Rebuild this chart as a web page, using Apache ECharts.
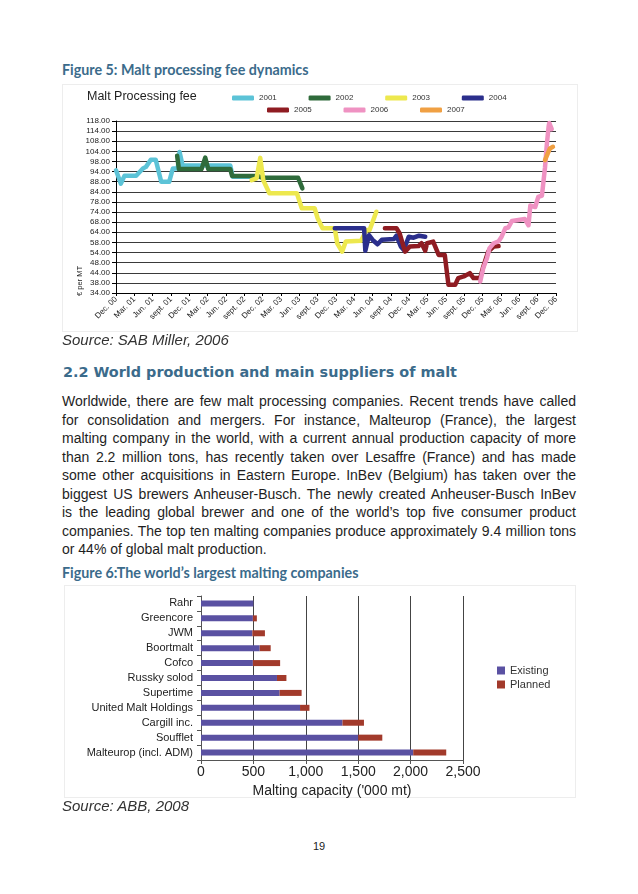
<!DOCTYPE html>
<html><head><meta charset="utf-8">
<script src="https://cdn.jsdelivr.net/npm/echarts@6/dist/echarts.min.js"></script>
<style>
body{margin:0;background:#fff;}
#page{position:relative;width:638px;height:894px;overflow:hidden;font-family:"Liberation Sans",Arial,sans-serif;color:#1e1e1e;}
.fig{position:absolute;left:62px;font-family:Lato,"Open Sans",sans-serif;font-weight:700;font-size:14.3px;color:#3b6b8b;line-height:16px;white-space:nowrap;}
.src{position:absolute;left:62px;font-style:italic;font-size:15px;color:#333;line-height:18px;white-space:nowrap;}
.h2{position:absolute;left:63px;top:362px;font-family:"DejaVu Sans",sans-serif;font-weight:700;font-size:14.4px;color:#3b6b8b;line-height:20px;white-space:nowrap;}
#body{position:absolute;left:62px;top:392px;width:514px;font-size:14px;line-height:18.5px;}
#body div{text-align:justify;text-align-last:justify;}
#body div.last{text-align-last:left;}
.box{position:absolute;border:1px solid #ededed;box-sizing:border-box;}
#c1{position:absolute;left:62px;top:84px;width:516px;height:248px;}
#c2{position:absolute;left:64px;top:585px;width:512px;height:220px;}
#pg{position:absolute;left:0;width:638px;top:838px;text-align:center;font-size:11px;line-height:16px;color:#222;}
</style></head>
<body><div id="page">
<div class="fig" style="top:62px">Figure 5: Malt processing fee dynamics</div>
<div class="box" style="left:62px;top:84px;width:516px;height:248px"></div>
<div id="c1"></div>
<div class="src" style="top:331px">Source: SAB Miller, 2006</div>
<div class="h2">2.2 World production and main suppliers of malt</div>
<div id="body">
<div>Worldwide, there are few malt processing companies. Recent trends have called</div>
<div>for consolidation and mergers. For instance, Malteurop (France), the largest</div>
<div>malting company in the world, with a current annual production capacity of more</div>
<div>than 2.2 million tons, has recently taken over Lesaffre (France) and has made</div>
<div>some other acquisitions in Eastern Europe. InBev (Belgium) has taken over the</div>
<div>biggest US brewers Anheuser-Busch. The newly created Anheuser-Busch InBev</div>
<div>is the leading global brewer and one of the world’s top five consumer product</div>
<div>companies. The top ten malting companies produce approximately 9.4 million tons</div>
<div class="last">or 44% of global malt production.</div>
</div>
<div class="fig" style="top:565px">Figure 6:The world’s largest malting companies</div>
<div class="box" style="left:64px;top:585px;width:512px;height:213px"></div>
<div id="c2"></div>
<div class="src" style="top:797px">Source: ABB, 2008</div>
<div id="pg">19</div>
</div>
<script>
// ---- Figure 5 data ----
const xLabels = ['Dec. 00','Mar. 01','Jun. 01','sept. 01','Dec. 01','Mar. 02','Jun. 02','sept. 02','Dec. 02','Mar. 03','Jun. 03','sept. 03','Dec. 03','Mar. 04','Jun. 04','sept. 04','Dec. 04','Mar. 05','Jun. 05','sept. 05','Dec. 05','Mar. 06','Jun. 06','sept. 06','Dec. 06'];
const yLabels = ['34.00','38.00','44.00','48.00','54.00','58.00','64.00','68.00','74.00','78.00','84.00','88.00','94.00','98.00','104.00','108.00','114.00','118.00'];
const years = ['2001','2002','2003','2004','2005','2006','2007'];
const yearColors = ['#5cc3d7','#2f6b3b','#ede84e','#2b2f8c','#8f1c22','#ef92c2','#f0a043'];
// [months since Dec. 00, € per MT]
const fee2001 = [[0,93.9],[0.8,87.4],[1.4,91.3],[3.3,91.3],[4.4,94.8],[4.9,95.6],[5.7,99.1],[6.5,99.1],[7.4,88.3],[8.7,88.3],[9.3,94.8],[10.1,94.8],[10.4,102.9],[10.9,96.3],[18.7,96.3],[19.1,90.8],[22.5,90.8]];
const fee2002 = [[10.0,101.0],[10.3,94.5],[14.0,94.5],[14.6,100.1],[15.1,94.5],[18.7,94.5],[19.0,91.2],[23.1,91.2],[23.9,90.3],[29.8,90.3],[30.5,85.1]];
const fee2003 = [[22.2,89.1],[23.0,90.0],[23.6,100.0],[24.1,89.1],[25.1,82.7],[29.6,82.7],[30.4,75.4],[32.5,75.4],[33.0,70.5],[33.8,65.6],[35.8,65.6],[36.2,58.2],[37.0,54.2],[37.6,59.2],[40.1,59.5],[41.0,64.8],[41.5,64.8],[42.6,73.7]];
const fee2004 = [[35.8,65.6],[40.6,65.6],[40.8,54.6],[41.4,62.2],[42.0,59.9],[42.8,57.8],[43.5,60.0],[45.5,60.4],[45.9,62.0],[46.6,56.7],[47.1,55.0],[47.9,61.5],[48.7,61.0],[49.6,62.0],[50.6,61.5]];
const fee2005 = [[44.0,65.6],[45.9,65.6],[46.4,63.2],[47.3,54.2],[48.1,56.7],[49.5,56.9],[50.0,58.3],[50.6,54.6],[50.9,58.3],[51.9,59.1],[52.8,52.6],[53.8,52.6],[54.4,38.0],[55.5,38.0],[56.0,41.3],[56.9,42.1],[57.9,43.7],[58.5,41.3],[59.6,41.3],[60.1,46.9],[60.9,54.2],[61.8,56.7],[62.6,56.9]];
const fee2006 = [[59.6,39.6],[60.1,46.2],[60.7,51.0],[61.1,55.8],[61.8,58.3],[62.6,59.2],[63.1,61.5],[63.7,65.6],[64.2,66.0],[64.8,69.2],[66.9,70.1],[67.5,67.1],[67.8,76.7],[68.6,76.0],[69.1,80.9],[69.7,81.6],[70.2,95.3],[70.5,106.6],[70.8,115.5],[70.9,117.0],[71.3,114.0]];
const fee2007 = [[70.2,98.9],[71.0,104.6],[71.5,105.4]];
const feeSeries = [fee2001,fee2002,fee2003,fee2004,fee2005,fee2006,fee2007];

// ---- Figure 6 data ----
const companies = ['Rahr','Greencore','JWM','Boortmalt','Cofco','Russky solod','Supertime','United Malt Holdings','Cargill inc.','Soufflet','Malteurop (incl. ADM)'];
const existing = [500,495,490,560,495,725,750,945,1350,1500,2025];
const planned = [0,38,120,105,260,90,210,90,205,230,315];

const f = 'Liberation Sans';
const c1 = echarts.init(document.getElementById('c1'), null, {renderer:'canvas'});
c1.setOption({
  animation:false,
  title:{text:'Malt Processing fee', left:25, top:6, padding:0,
    textStyle:{fontFamily:f, fontSize:12.5, fontWeight:'normal', color:'#1e1e1e'}},
  legend: years.map((y,i)=>({
    data:[y], left: i<4 ? 170+i*76.6 : 205+(i-4)*76.5, top: i<4 ? 10 : 22,
    itemWidth:22, itemHeight:5, icon:'roundRect', padding:0, itemGap:0, selectedMode:false,
    textStyle:{fontSize:8, fontFamily:f, color:'#333'}
  })),
  grid:{left:54, right:22, top:37, bottom:39, outerBoundsMode:'none', containLabel:false},
  xAxis:{type:'value', min:0, max:72, interval:3,
    axisLine:{lineStyle:{color:'#000'}}, axisTick:{show:true, length:3, lineStyle:{color:'#000'}},
    splitLine:{show:false},
    axisLabel:{rotate:45, fontSize:8, fontFamily:f, color:'#222', margin:5, formatter:v=>xLabels[Math.round(v/3)]||''}},
  yAxis:[
    {type:'value', min:34, max:118, show:false},
    {type:'value', min:0, max:17, interval:1, position:'left',
      axisLine:{show:true, lineStyle:{color:'#000'}}, axisTick:{show:true, length:4, lineStyle:{color:'#000'}},
      splitLine:{show:true, lineStyle:{color:'#3a3a3a'}},
      axisLabel:{fontSize:8, fontFamily:f, color:'#222', margin:6, formatter:v=>yLabels[Math.round(v)]}}
  ],
  graphic:[{type:'text', x:18, y:197, rotation:Math.PI/2,
    style:{text:'€ per MT', fontSize:7.5, fontFamily:f, fill:'#222', align:'center', verticalAlign:'middle'}}],
  series: years.map((y,i)=>({
    name:y, type:'line', yAxisIndex:0, data:feeSeries[i], showSymbol:false, symbol:'none',
    color:yearColors[i], lineStyle:{width:4.5, color:yearColors[i], join:'round', cap:'round'}
  }))
});

const c2 = echarts.init(document.getElementById('c2'), null, {renderer:'canvas'});
c2.setOption({
  animation:false,
  grid:{left:137, right:113, top:11, bottom:45, outerBoundsMode:'none', containLabel:false},
  legend:{orient:'vertical', left:433, top:80, itemWidth:8, itemHeight:8, itemGap:3, icon:'rect', padding:0,
    textStyle:{fontSize:11, fontFamily:f, color:'#333'}, data:['Existing','Planned'], selectedMode:false},
  xAxis:{type:'value', min:0, max:2500, interval:500,
    name:"Malting capacity ('000 mt)", nameLocation:'middle', nameGap:22,
    nameTextStyle:{fontSize:14, fontFamily:f, color:'#222'},
    axisLine:{show:true, lineStyle:{color:'#555'}}, axisTick:{show:true, length:4, lineStyle:{color:'#555'}},
    axisLabel:{fontSize:14, fontFamily:f, color:'#222', margin:5, formatter:v=>v.toLocaleString('en-US')},
    splitLine:{show:true, lineStyle:{color:'#444'}}},
  yAxis:{type:'category', inverse:true, data:companies,
    axisLine:{show:true, lineStyle:{color:'#555'}}, axisTick:{show:true, length:4, lineStyle:{color:'#555'}},
    axisLabel:{fontSize:11, fontFamily:f, color:'#222', margin:8, interval:0}},
  series:[
    {name:'Existing', type:'bar', stack:'cap', data:existing, barWidth:6, itemStyle:{color:'#5a51a2'}},
    {name:'Planned', type:'bar', stack:'cap', data:planned, barWidth:6, itemStyle:{color:'#a23a2b'}}
  ]
});
</script>
</body></html>
